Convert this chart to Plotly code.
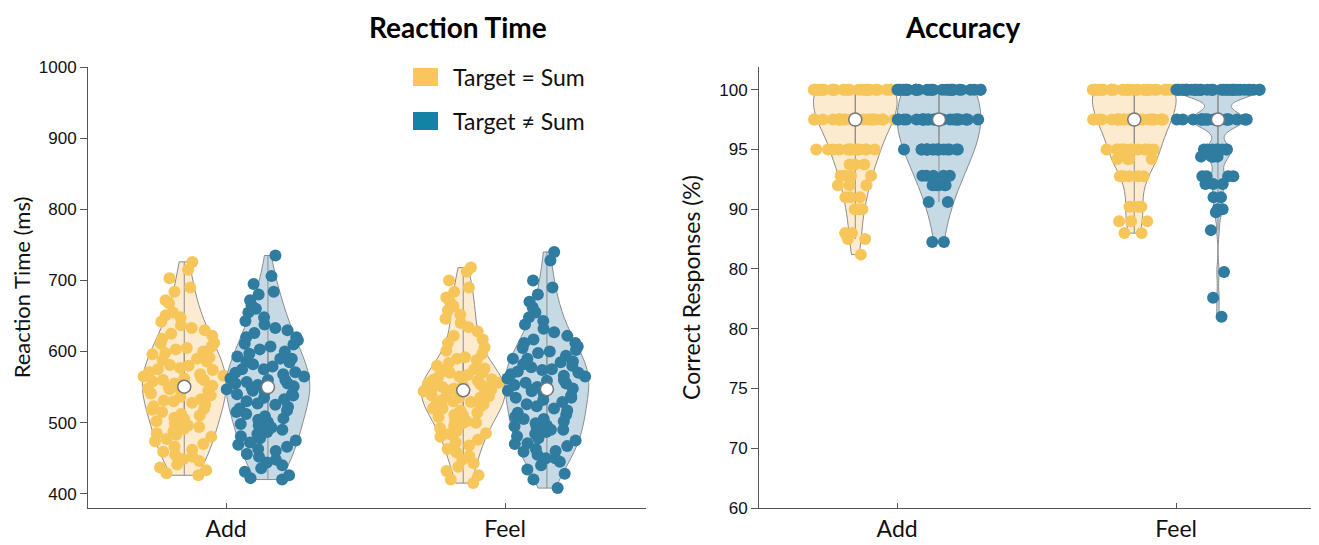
import numpy as np
import plotly.graph_objects as go

# ---------------- data ----------------
conditions = ["Add", "Feel"]
series_names = ["Target = Sum", "Target \u2260 Sum"]

rt_add_eq = [726, 715, 703, 690, 684, 672, 668, 655, 651, 648, 642, 637, 633, 630, 625, 622, 618, 611,
             607, 603, 600, 596, 592, 588, 586, 581, 577, 574, 571, 566, 563, 560, 558, 555, 552, 549,
             547, 545, 541, 538, 536, 533, 531, 528, 525, 523, 520, 518, 515, 512, 510, 507, 505, 502,
             499, 496, 494, 491, 488, 485, 483, 480, 477, 474, 470, 466, 462, 459, 455, 452, 449, 446,
             441, 437, 433, 429, 426, 548, 562, 568, 575, 580, 590, 598, 605, 612, 530, 560, 565, 545]
rt_add_ne = [735, 706, 695, 684, 680, 672, 665, 660, 655, 648, 643, 638, 633, 630, 626, 620, 616, 611,
             607, 603, 600, 597, 593, 590, 586, 582, 579, 575, 571, 568, 565, 562, 560, 557, 555, 553,
             551, 549, 547, 545, 543, 540, 538, 535, 533, 530, 527, 525, 522, 520, 517, 515, 512, 509,
             506, 504, 501, 498, 496, 493, 490, 487, 484, 481, 478, 475, 472, 469, 466, 463, 460, 456,
             452, 448, 444, 440, 436, 431, 426, 422, 420, 560, 575, 590, 610, 620, 585, 570, 540, 555]
rt_feel_eq = [718, 712, 700, 690, 684, 676, 670, 664, 658, 652, 646, 640, 634, 628, 622, 617, 612, 606,
              601, 597, 592, 588, 584, 580, 576, 573, 570, 567, 564, 561, 559, 556, 554, 552, 550, 548,
              546, 544, 542, 540, 537, 535, 532, 529, 526, 523, 520, 517, 514, 511, 508, 505, 502, 499,
              496, 492, 488, 484, 480, 476, 472, 468, 463, 458, 453, 448, 443, 438, 432, 426, 420, 415,
              555, 545, 535, 560, 550, 540, 565, 530, 575, 525, 590, 510, 500, 570, 548, 538, 520, 485]
rt_feel_ne = [740, 728, 700, 690, 680, 670, 662, 655, 648, 643, 638, 632, 627, 622, 617, 612, 607, 602,
              598, 594, 590, 586, 582, 578, 574, 570, 566, 562, 559, 556, 553, 550, 548, 546, 544, 541,
              538, 535, 532, 529, 526, 523, 520, 517, 514, 511, 508, 505, 502, 499, 496, 493, 490, 487,
              484, 481, 478, 475, 471, 467, 463, 459, 455, 450, 445, 440, 434, 428, 420, 408, 565, 572,
              585, 605, 575, 568, 590, 505, 495, 535, 560, 545, 555, 490, 470, 460, 450, 580, 600, 612]

acc_add_eq = [100] * 30 + [97.5] * 25 + [95] * 14 + [93.75] * 3 + [92.8] * 4 + [92] * 3 + [91] * 3 + \
             [90] * 3 + [88] * 2 + [87.5] * 2 + [86.2]
acc_add_ne = [100] * 30 + [97.5] * 29 + [95] * 17 + [92.8] * 5 + [92] * 5 + [90.6] * 2 + [87.25] * 2
acc_feel_eq = [100] * 32 + [97.5] * 25 + [95] * 14 + [94.2] * 4 + [92.75] * 6 + [90.2] * 4 + [89] * 3 + [88] * 2
acc_feel_ne = [100] * 38 + [97.5] * 24 + [95] * 8 + [94.4] * 4 + [92.75] * 4 + [92.1] * 3 + [91] * 2 + \
              [90] * 2 + [89.75] + [88.25] + [84.75] + [82.6] + [81]

rt_ticks = [400, 500, 600, 700, 800, 900, 1000]
acc_tickvals = [100, 95, 90, 85, 80, 75, 70, 65]
acc_ticktext = ["100", "95", "90", "80", "80", "75", "70", "60"]

# ---------------- style ----------------
PT_COLORS = ["#F7C65B", "#2F7CA0"]
FILL_COLORS = ["#FDEBCF", "#C6DAE6"]
LEGEND_COLORS = ["#F8C65C", "#1283A4"]
EDGE = "#8C8C8C"
OFFSETS = [-0.15, 0.15]
FONT = "Lato, 'Open Sans', sans-serif"
TICKFONT = "'Liberation Sans', Arial, sans-serif"

panels = [
    ("x", "y", [[rt_add_eq, rt_add_ne], [rt_feel_eq, rt_feel_ne]], [[None, None], [None, None]]),
    ("x2", "y2", [[acc_add_eq, acc_add_ne], [acc_feel_eq, acc_feel_ne]], [[1.5, 3.5], [1.5, 0.7]]),
]

fig = go.Figure()
for xa, ya, groups, bws in panels:
    for ci, cond in enumerate(conditions):
        for si in range(2):
            vals = groups[ci][si]
            pos = ci + OFFSETS[si]
            kw = {}
            if bws[ci][si] is not None:
                kw["bandwidth"] = bws[ci][si]
            fig.add_trace(go.Violin(
                y=vals, x0=pos, xaxis=xa, yaxis=ya, width=0.3, scalemode="width",
                spanmode="hard", points="all", pointpos=0, jitter=1.0,
                marker=dict(color=PT_COLORS[si], size=12, line=dict(width=0)),
                fillcolor=FILL_COLORS[si], line=dict(color=EDGE, width=1),
                box=dict(visible=True, width=0, fillcolor="rgba(0,0,0,0)",
                         line=dict(color=EDGE, width=1)),
                meanline=dict(visible=False), showlegend=False, name=series_names[si],
                hoverinfo="y", **kw))
            fig.add_trace(go.Scatter(
                x=[pos], y=[float(np.median(vals))], xaxis=xa, yaxis=ya, mode="markers",
                marker=dict(color="white", size=13, line=dict(color="#777777", width=1.5)),
                showlegend=False, hoverinfo="skip"))

axis_common = dict(showline=True, linecolor="#555555", linewidth=1, showgrid=False, zeroline=False)

# page body has an 8px margin, so the figure is sized/offset to compensate
fig.update_layout(
    width=1311, height=537,
    margin=dict(l=80, r=2, t=59, b=37),
    paper_bgcolor="white", plot_bgcolor="white",
    showlegend=False,
    font=dict(family=FONT, color="#111111"),
    xaxis=dict(domain=[0, 0.454], range=[-0.495, 1.505], tickvals=[0, 1], ticktext=conditions,
               ticks="inside", ticklen=5, tickcolor="#555555",
               tickfont=dict(family=FONT, size=23, color="#111111"), **axis_common),
    xaxis2=dict(domain=[0.546, 1], range=[-0.495, 1.505], tickvals=[0, 1], ticktext=conditions,
                ticks="inside", ticklen=5, tickcolor="#555555", anchor="y2",
                tickfont=dict(family=FONT, size=23, color="#111111"), **axis_common),
    yaxis=dict(range=[380, 1000], tickvals=rt_ticks, ticks="outside", ticklen=7, tickcolor="#555555",
               tickfont=dict(family=TICKFONT, size=17, color="#111111"),
               title=dict(text="Reaction Time (ms)", font=dict(family=FONT, size=22), standoff=12),
               **axis_common),
    yaxis2=dict(range=[65, 101.9], tickvals=acc_tickvals, ticktext=acc_ticktext, anchor="x2",
                ticks="outside", ticklen=7, tickcolor="#555555",
                tickfont=dict(family=TICKFONT, size=17, color="#111111"),
                title=dict(text="Correct Responses (%)", font=dict(family=FONT, size=23), standoff=12),
                **axis_common),
)

# panel coordinates (page pixels -> paper)
PW, PH = 1229.0, 441.0
def px_x(p):
    return (p - 88) / PW
def px_y(p):
    return (508 - p) / PH

# titles
fig.add_annotation(text="<b>Reaction Time</b>", xref="paper", yref="paper", x=px_x(367), y=px_y(27),
                   yanchor="middle", showarrow=False, font=dict(family=FONT, size=28, color="black"))
fig.add_annotation(text="<b>Accuracy</b>", xref="paper", yref="paper", x=px_x(1023), y=px_y(27),
                   yanchor="middle", showarrow=False, font=dict(family=FONT, size=28, color="black"))

# legend (manual, square swatches)
for i, (label, ytop) in enumerate(zip(series_names, [68, 112])):
    fig.add_shape(type="rect", xref="paper", yref="paper",
                  x0=px_x(413), x1=px_x(438), y0=px_y(ytop + 18), y1=px_y(ytop),
                  fillcolor=LEGEND_COLORS[i], line=dict(width=0))
    fig.add_annotation(text=label, xref="paper", yref="paper", x=px_x(451), y=px_y(ytop + 9),
                       xanchor="left", yanchor="middle", showarrow=False,
                       font=dict(family=FONT, size=23, color="#111111"))

fig.write_html("out.html")
